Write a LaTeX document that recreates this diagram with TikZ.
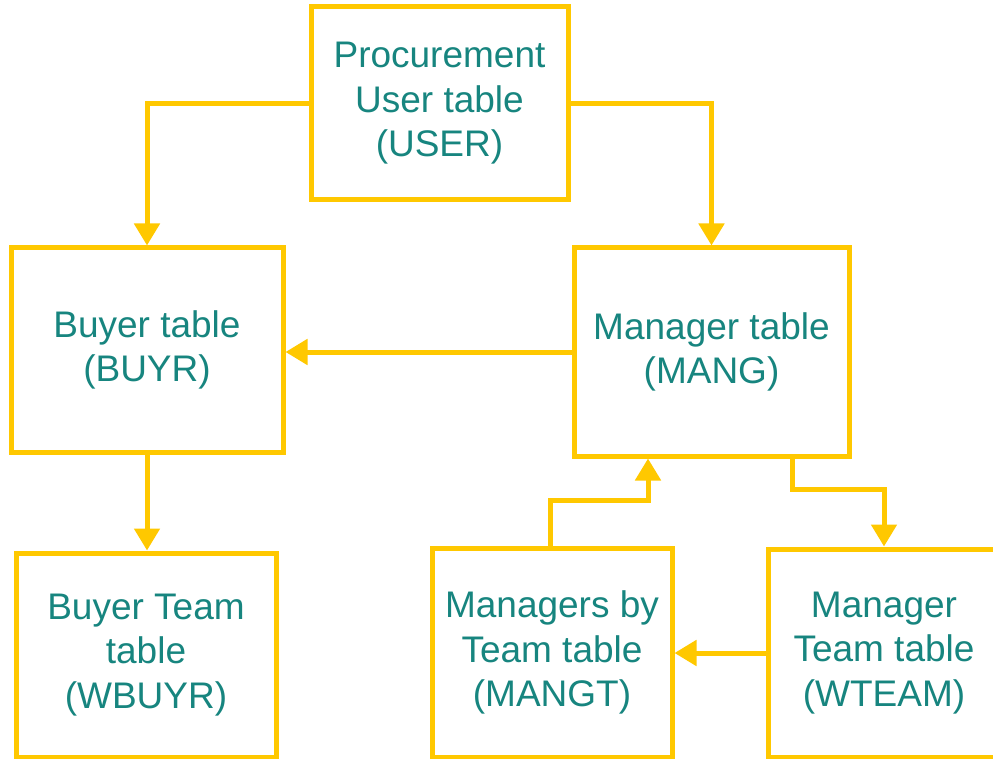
\documentclass[tikz,border=0pt]{standalone}
\usepackage{fontspec}
\setmainfont{Liberation Sans}
\usetikzlibrary{arrows.meta}
\definecolor{boxyellow}{HTML}{FFC800}
\definecolor{labelteal}{HTML}{17857F}
\begin{document}
\begin{tikzpicture}[x=1pt,y=-1pt,
  tbl/.style={draw=boxyellow, line width=5pt, fill=white, align=center,
    text=labelteal, inner sep=0pt,
    font=\fontsize{37}{44.5}\selectfont},
  link/.style={draw=boxyellow, line width=5pt,
    -{Triangle[width=25pt,length=22pt]}}]
\useasboundingbox (0,0) rectangle (993,759);
\clip (0,0) rectangle (993,759);

% tables
\node[tbl, minimum width=257pt, minimum height=193pt] (user) at (439.5,103.5)
  {Procurement\\User table\\(USER)};
\node[tbl, minimum width=272pt, minimum height=204pt] (buyr) at (147,350)
  {Buyer table\\(BUYR)};
\node[tbl, minimum width=275pt, minimum height=208pt] (mang) at (711.5,352)
  {Manager table\\(MANG)};
\node[tbl, minimum width=260pt, minimum height=204pt] (wbuyr) at (146,655)
  {Buyer Team\\table\\(WBUYR)};
\node[tbl, minimum width=240pt, minimum height=209pt] (mangt) at (552,652.5)
  {Managers by\\Team table\\(MANGT)};
\node[tbl, minimum width=232pt, minimum height=208pt] (wteam) at (884,653)
  {Manager\\Team table\\(WTEAM)};

% relations
\draw[link] (user.west) -| (buyr.north);
\draw[link] (user.east) -| (mang.north);
\draw[link] (mang.west) -- (mang.west -| buyr.east);
\draw[link] (buyr.south) -- (buyr.south |- wbuyr.north);
\draw[link] ([xshift=-2pt]mangt.north) -- ++(0,-45) -| ([xshift=-63.5pt]mang.south);
\draw[link] ([xshift=80.5pt]mang.south) -- ++(0,31) -| (wteam.north);
\draw[link] (wteam.west) -- (wteam.west -| mangt.east);
\end{tikzpicture}
\end{document}
